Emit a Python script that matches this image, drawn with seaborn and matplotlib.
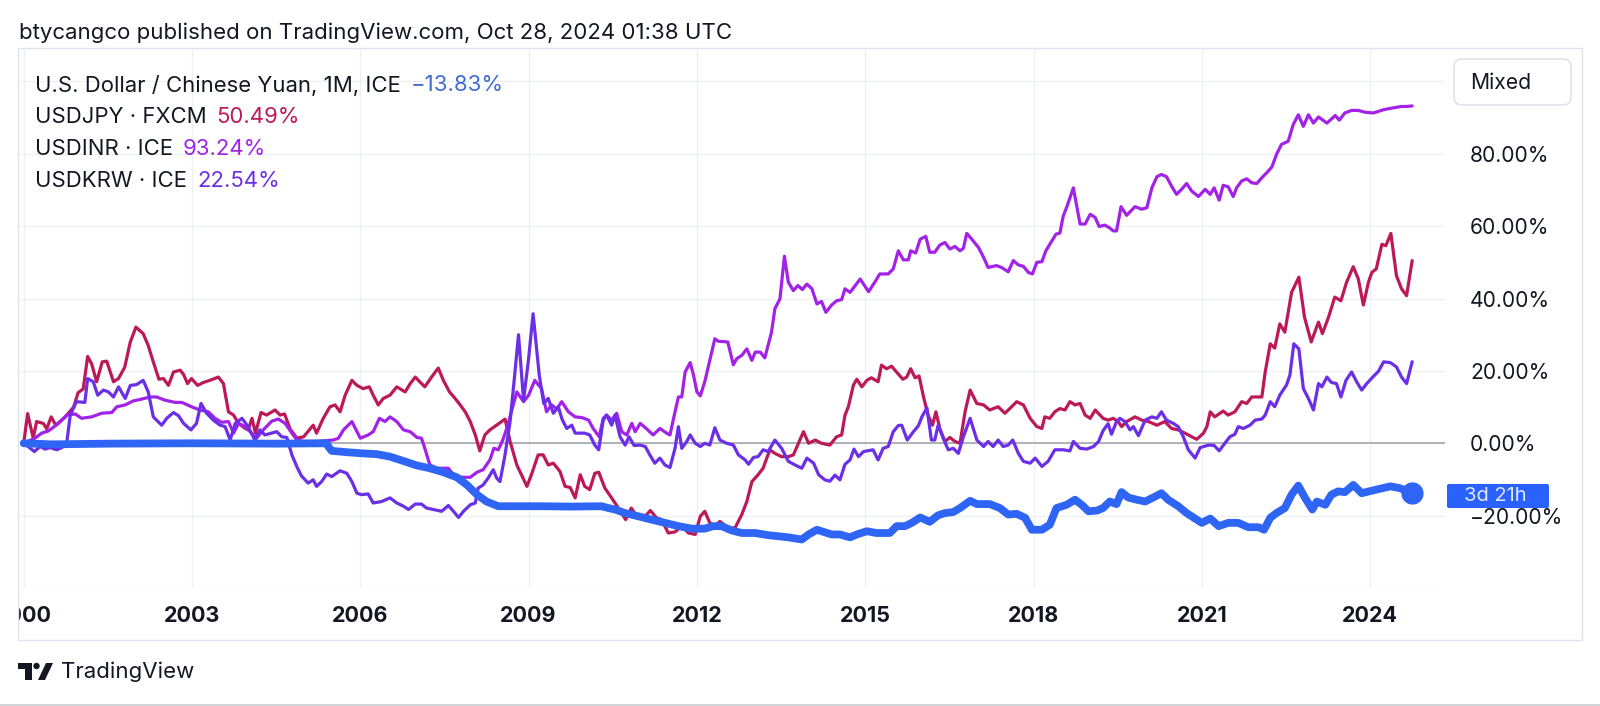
import matplotlib
matplotlib.use("Agg")
import matplotlib.pyplot as plt
from matplotlib.patches import Rectangle, FancyBboxPatch, Circle, Polygon
from matplotlib.transforms import IdentityTransform
import pandas as pd
import seaborn as sns

# ---- data (percent change since Jan 2000) ----
jpy_t = [2000.0, 2000.07, 2000.17, 2000.23, 2000.35, 2000.41, 2000.49, 2000.57, 2000.74, 2000.89, 2000.97,
         2001.06, 2001.14, 2001.21, 2001.3, 2001.4, 2001.48, 2001.6, 2001.69, 2001.8, 2001.9,
         2002.0, 2002.13, 2002.22, 2002.31, 2002.41, 2002.49, 2002.58, 2002.67, 2002.79, 2002.85, 2002.92, 2002.99,
         2003.1, 2003.2, 2003.32, 2003.47, 2003.56, 2003.65, 2003.74, 2003.83, 2003.95,
         2004.0, 2004.07, 2004.13, 2004.23, 2004.33, 2004.48, 2004.57, 2004.65, 2004.75, 2004.87, 2004.99,
         2005.16, 2005.22, 2005.34, 2005.46, 2005.55, 2005.64, 2005.73, 2005.85, 2005.94,
         2006.05, 2006.16, 2006.23, 2006.32, 2006.41, 2006.53, 2006.65, 2006.8, 2006.89, 2006.98,
         2007.06, 2007.15, 2007.27, 2007.39, 2007.48, 2007.59, 2007.69, 2007.78, 2007.87, 2007.96,
         2008.05, 2008.13, 2008.22, 2008.31, 2008.43, 2008.58, 2008.67, 2008.79, 2008.97,
         2009.05, 2009.17, 2009.26, 2009.35, 2009.44, 2009.56, 2009.65, 2009.74, 2009.83, 2009.92,
         2010.0, 2010.09, 2010.18, 2010.25, 2010.36, 2010.48, 2010.6, 2010.73, 2010.83, 2010.93,
         2011.05, 2011.17, 2011.28, 2011.37, 2011.49, 2011.61, 2011.73, 2011.85, 2011.97,
         2012.06, 2012.14, 2012.23, 2012.32, 2012.41, 2012.56, 2012.68, 2012.8, 2012.89, 2012.98,
         2013.09, 2013.18, 2013.3, 2013.39, 2013.51, 2013.63, 2013.72, 2013.81, 2013.9, 2013.99,
         2014.11, 2014.22, 2014.37, 2014.49, 2014.58, 2014.64, 2014.7, 2014.79, 2014.85, 2014.94,
         2015.03, 2015.11, 2015.23, 2015.29, 2015.38, 2015.47, 2015.56, 2015.67, 2015.74, 2015.81, 2015.89, 2015.96,
         2016.04, 2016.12, 2016.2, 2016.26, 2016.33, 2016.42, 2016.51, 2016.6, 2016.69, 2016.78, 2016.87, 2016.99,
         2017.11, 2017.22, 2017.37, 2017.49, 2017.61, 2017.7, 2017.82, 2017.94,
         2018.06, 2018.15, 2018.2, 2018.29, 2018.38, 2018.47, 2018.56, 2018.65, 2018.74, 2018.83, 2018.92,
         2019.01, 2019.1, 2019.24, 2019.33, 2019.42, 2019.51, 2019.57, 2019.66, 2019.81, 2019.93,
         2020.05, 2020.2, 2020.34, 2020.46, 2020.58, 2020.7, 2020.82, 2020.91,
         2021.03, 2021.09, 2021.15, 2021.23, 2021.38, 2021.47, 2021.59, 2021.71, 2021.8, 2021.89,
         2022.07, 2022.13, 2022.22, 2022.3, 2022.39, 2022.48, 2022.6, 2022.73, 2022.83, 2022.95,
         2023.08, 2023.15, 2023.26, 2023.37, 2023.48, 2023.58, 2023.7, 2023.79, 2023.88, 2023.97,
         2024.03, 2024.11, 2024.21, 2024.28, 2024.37, 2024.47, 2024.56, 2024.65, 2024.75]
jpy_v = [0, 8.2, 1.4, 6, 5.5, 4, 7.3, 5, 7.3, 10, 14,
         15, 24, 22, 17, 22.5, 22.7, 17, 17.9, 21, 28,
         32.1, 30.3, 27, 22.5, 17.7, 17.9, 16, 19.7, 20.2, 19, 16.5, 17.9,
         16, 16.8, 17.4, 18.3, 16.5, 8.7, 7.8, 5.5, 4.1,
         3.7, 6.9, 2.8, 8.5, 7.8, 9.2, 7.8, 8.1, 3.9, 1.4, 1.8,
         5, 2.8, 6.9, 10.1, 10.6, 8.7, 13.3, 17.4, 16,
         15.1, 15.6, 13.3, 10.6, 12.4, 13.3, 15.6, 14.2, 16.5, 18.3,
         17, 15.6, 18.3, 20.8, 17.4, 14.2, 12.4, 10.6, 8.7, 6,
         2.3, -2.1, 2.3, 3.7, 5, 6.7, 0.5, -6, -11.9,
         -8.7, -3.2, -3.2, -6, -5.5, -7.8, -11.9, -12.2, -15.1, -8.7,
         -11.9, -12.8, -8.3, -8, -12.4, -15.1, -17.9, -21.1, -17.9, -20.2,
         -20.6, -18.6, -20.6, -21.1, -24.8, -24.5, -22.9, -24.8, -25.2,
         -20.2, -18.8, -22, -22.9, -21.6, -23.4, -23.4, -19.7, -16.1, -10.6,
         -8.7, -6.9, -1.8, -2.8, -3.7, -3.7, -3.2, 0, 3.2, 0,
         0.9, 0, -0.5, 1.8, 2.3, 7.8, 10.1, 16.1, 17.7, 15.6,
         17.4, 18.1, 17, 21.6, 20.6, 21.3, 19.7, 17.7, 18.3, 20.6, 18.1, 18.6,
         12.8, 7.8, 5, 8.7, 4.1, 0.5, 1.6, 0.5, 0, 8.7, 14.7, 11,
         10.6, 9.2, 10.1, 8.3, 10.1, 11.5, 10.6, 6.9,
         4.6, 4.1, 7.3, 6.9, 8.7, 9.6, 9.2, 11.5, 10.6, 11, 7.8,
         6.9, 9.2, 6.9, 6.4, 6.9, 6, 4.6, 6, 7.3, 6.4,
         6, 5, 6, 4.1, 3.7, 2.8, 1.8, 1.1,
         2.8, 4.6, 8.7, 7.3, 8.9, 7.8, 8.7, 11.5, 11, 12.8,
         12.8, 19.7, 27.5, 26.3, 33, 30.7, 41.7, 45.9, 34.9, 28,
         33.5, 30.3, 34.9, 40.4, 39.4, 44.5, 48.8, 45.4, 38.2, 44.5,
         47.2, 48.2, 55, 54.6, 58, 46.3, 42.7, 40.8, 50.49]

inr_t = [2000.0, 2000.2, 2000.32, 2000.44, 2000.62, 2000.77, 2000.92,
         2001.03, 2001.21, 2001.39, 2001.57, 2001.66, 2001.81, 2001.95,
         2002.1, 2002.25, 2002.37, 2002.52, 2002.7, 2002.82, 2002.99,
         2003.14, 2003.29, 2003.41, 2003.53, 2003.65, 2003.74, 2003.83, 2003.95,
         2004.06, 2004.15, 2004.27, 2004.42, 2004.54, 2004.66, 2004.78, 2004.87, 2004.99,
         2005.22, 2005.52, 2005.61, 2005.7, 2005.85,
         2006.0, 2006.14, 2006.23, 2006.34, 2006.44, 2006.53, 2006.65, 2006.77, 2006.89,
         2007.01, 2007.09, 2007.15, 2007.24, 2007.36, 2007.48, 2007.57, 2007.66, 2007.78, 2007.96,
         2008.08, 2008.19, 2008.31, 2008.38, 2008.46, 2008.54, 2008.61, 2008.7, 2008.79, 2008.91,
         2009.0, 2009.11, 2009.23, 2009.32, 2009.41, 2009.5, 2009.59, 2009.71, 2009.83, 2009.95,
         2010.07, 2010.15, 2010.26, 2010.33, 2010.39, 2010.48, 2010.57, 2010.66, 2010.75, 2010.84, 2010.9, 2010.99,
         2011.11, 2011.22, 2011.34, 2011.46, 2011.52, 2011.61, 2011.67, 2011.73, 2011.79, 2011.88, 2011.94,
         2012.0, 2012.06, 2012.14, 2012.23, 2012.32, 2012.38, 2012.55, 2012.65, 2012.71, 2012.8, 2012.89, 2012.98,
         2013.04, 2013.13, 2013.21, 2013.33, 2013.39, 2013.48, 2013.56, 2013.63, 2013.72, 2013.8, 2013.88, 2013.96,
         2014.05, 2014.14, 2014.22, 2014.3, 2014.4, 2014.49, 2014.58, 2014.64, 2014.73, 2014.91,
         2015.06, 2015.17, 2015.26, 2015.41, 2015.5, 2015.59, 2015.68, 2015.77, 2015.81, 2015.9, 2015.98,
         2016.08, 2016.15, 2016.24, 2016.33, 2016.42, 2016.51, 2016.6, 2016.69, 2016.75, 2016.81, 2016.9,
         2017.02, 2017.11, 2017.19, 2017.34, 2017.43, 2017.55, 2017.64, 2017.73, 2017.82, 2017.91, 2017.98,
         2018.06, 2018.15, 2018.22, 2018.29, 2018.4, 2018.47, 2018.53, 2018.6, 2018.71, 2018.83, 2018.92,
         2019.01, 2019.1, 2019.17, 2019.27, 2019.36, 2019.42, 2019.48, 2019.56, 2019.66, 2019.81, 2019.93,
         2020.02, 2020.11, 2020.2, 2020.28, 2020.37, 2020.46, 2020.55, 2020.64, 2020.73, 2020.82, 2020.94,
         2021.06, 2021.15, 2021.22, 2021.31, 2021.38, 2021.47, 2021.56, 2021.62, 2021.71, 2021.8, 2021.89, 2021.98,
         2022.07, 2022.16, 2022.25, 2022.33, 2022.42, 2022.54, 2022.63, 2022.72, 2022.81, 2022.9, 2022.99,
         2023.08, 2023.23, 2023.38, 2023.45, 2023.55, 2023.67, 2023.79, 2023.91,
         2024.06, 2024.24, 2024.41, 2024.56, 2024.65, 2024.75]
inr_v = [0, 1.4, 2.8, 3.4, 5.5, 7.8, 8.1,
         6.9, 7.3, 8.3, 8.5, 10.1, 10.6, 11.7,
         12.2, 12.8, 12.8, 11.9, 11.3, 11.3, 10.1,
         9.2, 8.7, 6.9, 5.8, 6, 2.8, 5.5, 4.6,
         2.8, 1.4, 3.7, 6.1, 6.7, 5.5, 2.8, 0.9, 0.5,
         0.5, 0.9, 1.4, 3.7, 6,
         1.4, 2.3, 3.2, 6.9, 6, 7.3, 6, 3.7, 3.2,
         1.6, 1.4, -1.4, -6, -6.9, -6.9, -6.9, -8.7, -9.4, -9.4,
         -8, -7.3, -4.6, -1.4, -1.8, 0.9, 4.1, 9.2, 14.2, 11.5,
         13.3, 17.4, 15.1, 8.7, 10.6, 9.5, 11.5, 8.7, 7.3, 7.1,
         6.4, 4.1, 1.8, 6.9, 7.8, 6.4, 8.3, 3.2, 2.3, 5.5, 3.2, 5.5,
         3.9, 2.3, 4.1, 2.8, 2.3, 8.7, 12.8, 12.8, 19.7, 22.3, 18.8,
         14.2, 13.1, 17, 22.9, 28.9, 28.2, 28, 21.7, 23.4, 24.3, 26.1, 22.9,
         25.2, 25.2, 23.6, 30.7, 37.2, 39.9, 51.7, 44.5, 42.2, 43.6, 42.5, 44,
         42.7, 38.5, 39.2, 36.2, 38.2, 39.4, 39.7, 42.7, 41.7, 45.4,
         41.9, 44.5, 46.8, 46.8, 48.2, 53.2, 50.7, 50.7, 53.2, 52.6, 56.4,
         57.2, 52.8, 52.8, 54.8, 55.5, 53.7, 54.4, 53.2, 53.9, 58, 56.4,
         54.1, 51.4, 48.6, 49.1, 48.6, 47.4, 50.5, 49.3, 48.9, 47.2, 46.8,
         50, 50.2, 53.2, 55, 57.8, 58.1, 62.8, 65.6, 70.6, 60.6, 60.6,
         63.3, 62.4, 59.9, 60.3, 59.5, 58.7, 58.7, 65.4, 63, 65.4, 64.7,
         65.1, 70.6, 73.7, 74.3, 73.7, 71.1, 68.8, 70.2, 71.8, 69.7, 68.2,
         70.2, 68.8, 70.6, 67.2, 71.3, 70.9, 68.2, 70.6, 72.5, 73.1, 72, 71.8,
         73.4, 74.8, 76.4, 79.8, 82.6, 83.5, 88.1, 90.8, 87.6, 90.8, 88.5,
         90.2, 88.5, 90.6, 89.3, 91.3, 92, 92, 91.5,
         91.3, 92.2, 92.7, 93.1, 93.1, 93.24]

krw_t = [2000.0, 2000.08, 2000.19, 2000.29, 2000.38, 2000.47, 2000.59, 2000.68, 2000.77, 2000.83, 2000.94,
         2001.09, 2001.14, 2001.24, 2001.32, 2001.42, 2001.51, 2001.6, 2001.69, 2001.81, 2001.9,
         2002.01, 2002.13, 2002.22, 2002.31, 2002.46, 2002.55, 2002.67, 2002.76, 2002.85, 2002.98,
         2003.08, 2003.16, 2003.26, 2003.38, 2003.5, 2003.59, 2003.68, 2003.77, 2003.89,
         2004.0, 2004.12, 2004.21, 2004.3, 2004.42, 2004.51, 2004.6, 2004.69, 2004.78, 2004.87, 2004.95,
         2005.07, 2005.16, 2005.22, 2005.31, 2005.4, 2005.49, 2005.64, 2005.76, 2005.85, 2005.94,
         2006.02, 2006.14, 2006.23, 2006.38, 2006.53, 2006.65, 2006.77, 2006.86, 2006.98,
         2007.09, 2007.18, 2007.3, 2007.45, 2007.57, 2007.66, 2007.75, 2007.84, 2007.96,
         2008.05, 2008.1, 2008.19, 2008.28, 2008.37, 2008.43, 2008.49, 2008.58, 2008.67, 2008.74, 2008.82, 2008.91,
         2009.0, 2009.08, 2009.19, 2009.27, 2009.35, 2009.44, 2009.53, 2009.6, 2009.68, 2009.77, 2009.83,
         2010.0, 2010.09, 2010.18, 2010.25, 2010.33, 2010.39, 2010.48, 2010.54, 2010.63, 2010.72, 2010.79, 2010.88, 2010.99,
         2011.08, 2011.16, 2011.25, 2011.34, 2011.43, 2011.52, 2011.61, 2011.67, 2011.73, 2011.82, 2011.88, 2011.97,
         2012.06, 2012.14, 2012.23, 2012.32, 2012.41, 2012.53, 2012.65, 2012.74, 2012.86, 2012.92,
         2013.01, 2013.09, 2013.18, 2013.27, 2013.39, 2013.51, 2013.63, 2013.75, 2013.87, 2013.96,
         2014.08, 2014.17, 2014.28, 2014.37, 2014.46, 2014.55, 2014.64, 2014.73, 2014.8, 2014.88, 2014.97,
         2015.14, 2015.23, 2015.32, 2015.41, 2015.5, 2015.59, 2015.65, 2015.75, 2015.86, 2015.95,
         2016.01, 2016.1, 2016.18, 2016.24, 2016.3, 2016.39, 2016.48, 2016.57, 2016.66, 2016.75, 2016.87, 2016.99,
         2017.11, 2017.19, 2017.28, 2017.37, 2017.46, 2017.55, 2017.63, 2017.73, 2017.82, 2017.94,
         2018.03, 2018.15, 2018.26, 2018.38, 2018.53, 2018.65, 2018.71, 2018.83, 2018.95,
         2019.07, 2019.16, 2019.24, 2019.33, 2019.39, 2019.48, 2019.54, 2019.63, 2019.72, 2019.78, 2019.87, 2019.99,
         2020.11, 2020.2, 2020.28, 2020.37, 2020.49, 2020.58, 2020.67, 2020.76, 2020.88, 2020.97,
         2021.12, 2021.22, 2021.31, 2021.41, 2021.5, 2021.59, 2021.65, 2021.74, 2021.86, 2021.95,
         2022.07, 2022.13, 2022.22, 2022.3, 2022.39, 2022.51, 2022.57, 2022.64, 2022.73, 2022.81, 2022.9, 2022.99,
         2023.08, 2023.14, 2023.23, 2023.31, 2023.4, 2023.48, 2023.57, 2023.67, 2023.76, 2023.85, 2023.94,
         2024.06, 2024.15, 2024.24, 2024.36, 2024.47, 2024.56, 2024.65, 2024.75]
krw_v = [0, -0.9, -2.3, -0.9, -1.6, -1.2, -1.8, -1.2, 0.5, 7.8, 11.5,
         11.3, 17.9, 17, 13.3, 14.7, 14.2, 12.8, 15.6, 12.4, 16,
         16.2, 17.4, 14.2, 7.3, 5, 6.9, 8.5, 7.6, 5.5, 3.7,
         5.5, 11, 8.3, 6.4, 5, 4.6, 0.9, 5.5, 6.9,
         4.6, 0.9, 3.7, 2.3, 2.8, 3.2, 1.8, 1.6, -3.2, -6.5, -9,
         -11, -10.1, -11.9, -10.6, -8.5, -9.2, -7.6, -8.3, -10.6, -13.8,
         -14.2, -14, -16.5, -16.1, -15.1, -16.5, -17.4, -18.3, -16.8,
         -16.8, -17.9, -18.3, -18.8, -17.2, -18.8, -20.5, -18.8, -17,
         -16.5, -12.4, -11.5, -9.6, -7.3, -9.6, -10.6, -3.2, 6, 17, 30, 11.9,
         23.4, 35.8, 18.8, 11, 12.4, 8.3, 10, 6.5, 4.1, 5, 2.8,
         2.8, 2.3, -0.5, -1.8, 6.4, 7.8, 5, 7.8, 1.8, -0.5, 1.8, -0.6, -0.5,
         -0.9, -3.2, -5.5, -4.1, -6, -6.7, -1.4, 4.6, -1.4, 0.5, 2.3, 0,
         -0.9, 0, -0.5, 4.3, 0.9, 0, -0.5, -3.2, -4.6, -5.8,
         -3.9, -3.7, -1.8, -2.3, 0.9, -1.4, -5, -6, -6.9, -4.1,
         -5.5, -8.7, -10.1, -10.5, -8.8, -10.1, -5.8, -4.6, -1.6, -3.7, -2.3,
         -1.8, -4.6, -1.4, -0.9, 3.2, 4.9, 5, 0.9, 3.2, 4.9,
         7.3, 9.8, 0.9, 0.9, 5, 1.4, -1.8, -1.4, -2.8, 1.8, 6.9, 0.9,
         -0.9, 0.5, -0.9, 0.9, -0.9, -0.5, 0.9, -2.8, -5, -5.5,
         -4.1, -6.4, -5, -1.8, -1.8, -2.1, 0.5, -1.4, -1.6,
         -0.9, 0.5, 3.5, 5.4, 2.5, 6, 6.9, 6, 3.7, 4.6, 2.1, 6.4,
         7.3, 6.9, 8.7, 6.4, 5.5, 4.6, 1.8, -1.8, -4.1, -1.2,
         -0.5, -0.6, -2.1, 0, 1.8, 2.5, 4.6, 4.1, 5, 6.4,
         6.7, 7.8, 11.5, 10.1, 13.3, 16.1, 18.8, 27.5, 26.1, 15.1, 12.4, 9.2,
         16.5, 15.6, 18.3, 16.8, 16.5, 12.8, 17.4, 19.7, 17, 14.7, 16.5,
         18.5, 19.9, 22.5, 22.3, 21.1, 18.3, 16.5, 22.54]

cny_t = [2000.0, 2000.5, 2001.5, 2003.0, 2004.5, 2005.4, 2005.43, 2005.49, 2005.79,
         2006.05, 2006.29, 2006.53, 2006.77, 2007.0, 2007.24, 2007.48, 2007.72, 2007.9,
         2008.08, 2008.25, 2008.46, 2008.79, 2009.26, 2009.74,
         2010.3, 2010.42, 2010.54, 2010.72, 2010.96, 2011.19, 2011.43, 2011.67, 2011.91,
         2012.14, 2012.29, 2012.44, 2012.62, 2012.8, 2013.04, 2013.27, 2013.63, 2013.87, 2013.99,
         2014.14, 2014.22, 2014.4, 2014.55, 2014.73, 2014.85, 2015.03, 2015.2, 2015.44, 2015.56,
         2015.71, 2015.83, 2015.98, 2016.15, 2016.3, 2016.42, 2016.57, 2016.69, 2016.87, 2016.99,
         2017.22, 2017.4, 2017.55, 2017.7, 2017.85, 2017.97, 2018.15, 2018.29, 2018.41, 2018.59,
         2018.74, 2018.86, 2018.98, 2019.13, 2019.24, 2019.36, 2019.48, 2019.57, 2019.69, 2019.84,
         2019.99, 2020.17, 2020.28, 2020.4, 2020.58, 2020.73, 2020.88, 2021.0, 2021.15, 2021.3,
         2021.47, 2021.65, 2021.83, 2022.01, 2022.11, 2022.22, 2022.33, 2022.48, 2022.6, 2022.72,
         2022.84, 2022.97, 2023.05, 2023.2, 2023.31, 2023.43, 2023.55, 2023.7, 2023.85, 2024.06,
         2024.36, 2024.53, 2024.75]
cny_v = [0, -0.3, -0.1, 0, -0.1, 0, -0.9, -2.1, -2.5,
         -2.8, -3, -3.7, -4.9, -6.1, -6.9, -8, -9.4, -11.5,
         -14.2, -16.1, -17.4, -17.4, -17.4, -17.5,
         -17.4, -17.9, -18.3, -19.3, -20.2, -21.1, -22, -22.9, -23.6,
         -23.6, -22.9, -22.9, -24.1, -24.8, -24.8, -25.4, -26, -26.6, -25.2,
         -23.9, -24.3, -25.2, -25.2, -26, -25.2, -24.3, -24.8, -24.8, -22.9,
         -22.9, -22, -20.5, -21.7, -19.9, -19.3, -19, -17.9, -15.9, -16.8,
         -16.8, -17.9, -19.7, -19.5, -20.6, -23.9, -23.9, -22.5, -17.9, -17,
         -15.6, -17, -18.8, -18.6, -17.9, -16.1, -16.8, -13.5, -15, -15.6,
         -16.1, -14.7, -13.8, -15.6, -17.4, -19.3, -20.8, -22, -20.8, -22.9,
         -22, -22, -23.2, -23.2, -23.9, -20.6, -19.3, -17.9, -14.2, -11.7,
         -15.1, -18.3, -16.1, -17, -14.2, -13.3, -13.5, -11.5, -13.8, -13,
         -11.9, -12.4, -13.83]

names = ["U.S. Dollar / Chinese Yuan, 1M, ICE", "USDJPY · FXCM", "USDINR · ICE", "USDKRW · ICE"]
last_labels = ["\u221213.83%", "50.49%", "93.24%", "22.54%"]
year_ticks = [2000, 2003, 2006, 2009, 2012, 2015, 2018, 2021, 2024]
pct_ticks = [-40, -20, 0, 20, 40, 60, 80, 100]

# colours
c_cny = "#2f65f5"
c_jpy = "#bc1958"
c_inr = "#a222e8"
c_krw = "#6a2fe6"
txt = "#131722"

sns.set_theme(style="white")
plt.rcParams['font.family'] = ['Inter', 'DejaVu Sans']

W, H = 1600, 706
fig = plt.figure(figsize=(W / 100, H / 100), dpi=100)


def fx(px):
    return px / W


def fy(py):
    return 1 - py / H


ax = fig.add_axes([fx(20), fy(588), fx(1445) - fx(20), fy(50) - fy(588)])

series = [
    (jpy_t, jpy_v, c_jpy, 2.3),
    (inr_t, inr_v, c_inr, 2.3),
    (krw_t, krw_v, c_krw, 2.3),
    (cny_t, cny_v, c_cny, 5.6),
]
for t, v, c, lw in series:
    df = pd.DataFrame({"t": t, "v": v})
    sns.lineplot(data=df, x="t", y="v", ax=ax, color=c, linewidth=lw,
                 estimator=None, sort=False, solid_joinstyle="round", solid_capstyle="round")

ax.plot([cny_t[-1]], [cny_v[-1]], "o", color=c_cny, ms=15, zorder=5)

ax.set_xlim(1999.934, 2025.335)
ax.set_ylim(-39.3, 108.7)
ax.axhline(0, color="#a3a6ad", lw=1.2, zorder=1)

ax.set_xticks(year_ticks)
ax.set_xticklabels([str(y) for y in year_ticks], fontweight="bold")
ax.set_yticks(pct_ticks)
ax.set_yticklabels(["" if p in (-40, 100) else f"{p:.2f}%".replace("-", "\u2212") for p in pct_ticks])
ax.yaxis.tick_right()
ax.tick_params(axis="x", length=0, pad=13, labelsize=15.5, labelcolor=txt)
ax.tick_params(axis="y", length=0, pad=18, labelsize=15.2, labelcolor=txt)
ax.grid(True, color="#eef0f4", lw=1)
ax.set_axisbelow(True)
ax.set_xlabel("")
ax.set_ylabel("")
for s in ax.spines.values():
    s.set_visible(False)

# title
fig.text(fx(19), fy(33), "btycangco published on TradingView.com, Oct 28, 2024 01:38 UTC",
         fontsize=16, color=txt, va="center", ha="left")

# legend block
val_colors = ["#3d6bd8", c_jpy, c_inr, c_krw]
for i, (nm, lab, vc) in enumerate(zip(names, last_labels, val_colors)):
    t_name = fig.text(fx(35), fy(85 + 32 * i), nm, fontsize=15.9, color=txt, va="center", ha="left")
    fig.add_artist(plt.Annotation(lab, xy=(1, 0.5), xycoords=t_name, xytext=(10, 0),
                                  textcoords="offset pixels", va="center", ha="left",
                                  fontsize=15.9, color=vc))

# panel frame
fig.add_artist(Rectangle((18, H - 640), 1582 - 18, 640 - 48, transform=IdentityTransform(),
                         fill=False, ec="#e0e3eb", lw=1, zorder=6))
# hide the clipped part of the first year label
fig.add_artist(Rectangle((0, H - 640), 17.5, 60, transform=IdentityTransform(),
                         fc="white", ec="none", zorder=7))

# "Mixed" button
fig.add_artist(FancyBboxPatch((1454, H - 105), 117, 46, boxstyle="round,pad=0,rounding_size=8",
                              transform=IdentityTransform(), fc="white", ec="#e0e3eb", lw=1.2, zorder=6))
fig.text(fx(1470), fy(83), "Mixed", fontsize=15.2, color=txt, va="center", ha="left", zorder=7)

# countdown tag
fig.add_artist(FancyBboxPatch((1447, H - 508), 102, 24, boxstyle="round,pad=0,rounding_size=2",
                              transform=IdentityTransform(), fc="#2962ff", ec="none", zorder=6))
fig.text(fx(1464), fy(496), "3d 21h", fontsize=14.5, color="#dfe7ff", va="center", ha="left", zorder=7)

# TradingView logo
fig.add_artist(Polygon([(18, H - 663), (32, H - 663), (32, H - 680), (25, H - 680), (25, H - 669), (18, H - 669)],
                       closed=True, transform=IdentityTransform(), fc=txt, ec="none"))
fig.add_artist(Circle((36.5, H - 666), 3.2, transform=IdentityTransform(), fc=txt, ec="none"))
fig.add_artist(Polygon([(46, H - 663), (53, H - 663), (45, H - 680), (38, H - 680)],
                       closed=True, transform=IdentityTransform(), fc=txt, ec="none"))
fig.text(fx(61), fy(672), "TradingView", fontsize=16, color=txt, va="center", ha="left")

# bottom edge line
fig.add_artist(plt.Line2D([0, 1], [fy(705), fy(705)], transform=fig.transFigure, color="#d0d2d6", lw=2))

fig.savefig("out.png", dpi=100, facecolor="white")
